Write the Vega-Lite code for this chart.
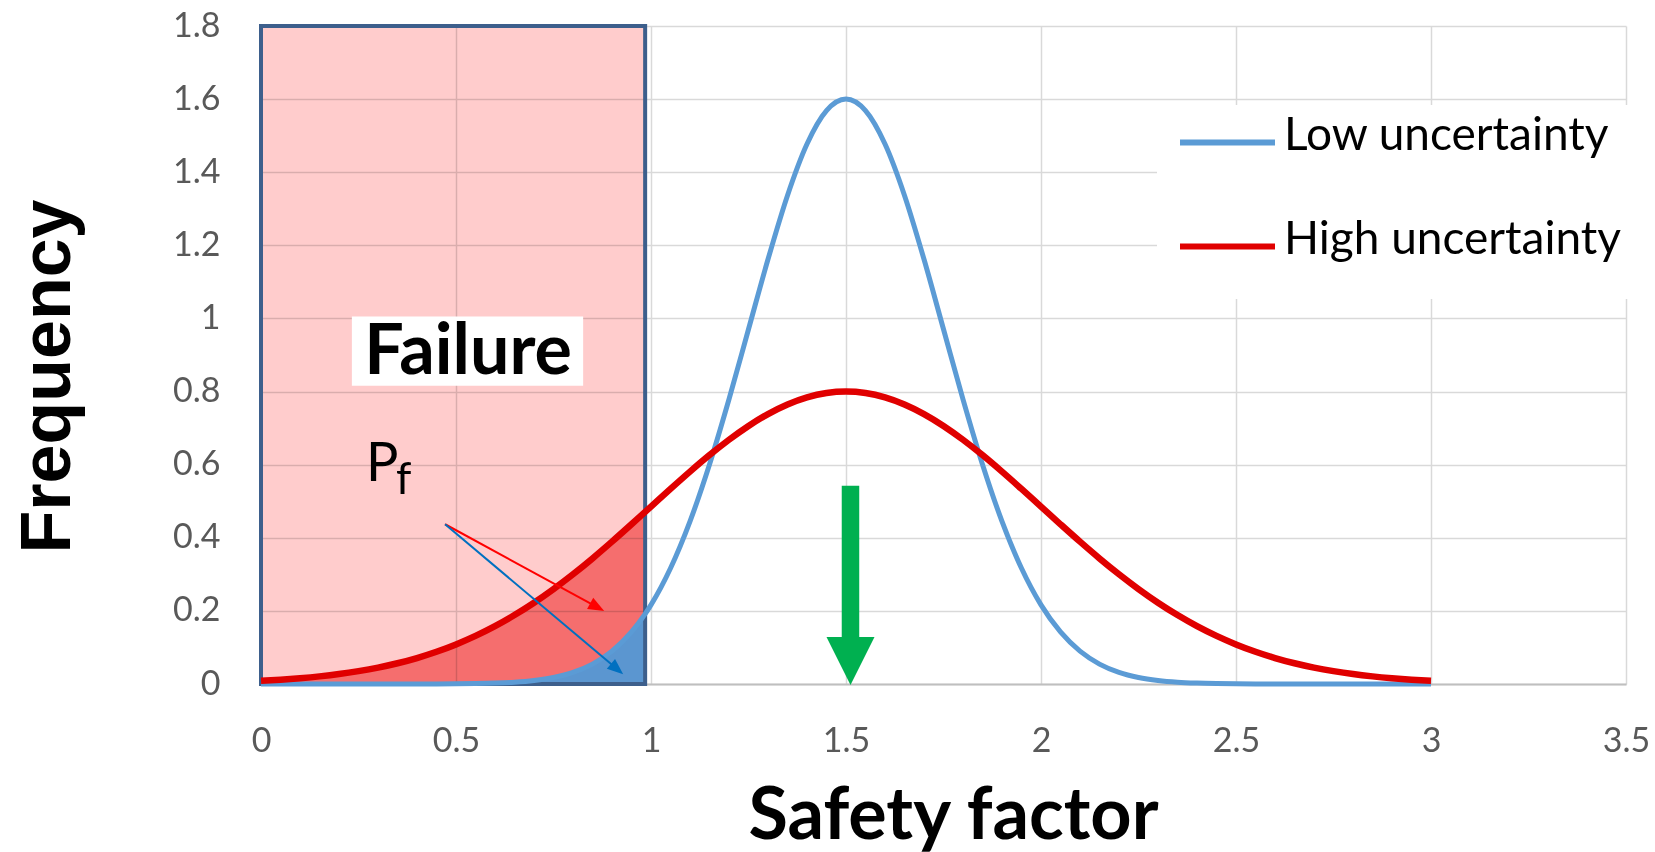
{
  "$schema": "https://vega.github.io/schema/vega-lite/v6.json",
  "width": 1365,
  "height": 658,
  "autosize": {"type": "none"},
  "padding": {"left": 261, "top": 26, "right": 29, "bottom": 168},
  "background": "white",
  "config": {"view": {"stroke": null}, "font": "Lato"},
  "datasets": {
    "curves": [
      {"x": 0, "Low uncertainty": 0, "High uncertainty": 0.0089},
      {"x": 0.05, "Low uncertainty": 0, "High uncertainty": 0.0119},
      {"x": 0.1, "Low uncertainty": 0, "High uncertainty": 0.0159},
      {"x": 0.15, "Low uncertainty": 0, "High uncertainty": 0.0209},
      {"x": 0.2, "Low uncertainty": 0, "High uncertainty": 0.0272},
      {"x": 0.25, "Low uncertainty": 0, "High uncertainty": 0.0352},
      {"x": 0.3, "Low uncertainty": 0, "High uncertainty": 0.0449},
      {"x": 0.35, "Low uncertainty": 0, "High uncertainty": 0.0568},
      {"x": 0.4, "Low uncertainty": 0.0001, "High uncertainty": 0.0711},
      {"x": 0.45, "Low uncertainty": 0.0002, "High uncertainty": 0.0882},
      {"x": 0.5, "Low uncertainty": 0.0005, "High uncertainty": 0.1083},
      {"x": 0.55, "Low uncertainty": 0.0012, "High uncertainty": 0.1316},
      {"x": 0.6, "Low uncertainty": 0.0025, "High uncertainty": 0.1583},
      {"x": 0.65, "Low uncertainty": 0.0049, "High uncertainty": 0.1886},
      {"x": 0.7, "Low uncertainty": 0.0096, "High uncertainty": 0.2224},
      {"x": 0.75, "Low uncertainty": 0.0178, "High uncertainty": 0.2597},
      {"x": 0.8, "Low uncertainty": 0.0317, "High uncertainty": 0.3002},
      {"x": 0.85, "Low uncertainty": 0.0545, "High uncertainty": 0.3436},
      {"x": 0.9, "Low uncertainty": 0.0898, "High uncertainty": 0.3894},
      {"x": 0.95, "Low uncertainty": 0.1423, "High uncertainty": 0.4369},
      {"x": 0.985, "Low uncertainty": 0.1917, "High uncertainty": 0.4707},
      {"x": 1, "Low uncertainty": 0.2165, "High uncertainty": 0.4852},
      {"x": 1.05, "Low uncertainty": 0.3166, "High uncertainty": 0.5336},
      {"x": 1.1, "Low uncertainty": 0.4449, "High uncertainty": 0.5809},
      {"x": 1.15, "Low uncertainty": 0.6005, "High uncertainty": 0.6262},
      {"x": 1.2, "Low uncertainty": 0.7788, "High uncertainty": 0.6682},
      {"x": 1.25, "Low uncertainty": 0.9704, "High uncertainty": 0.706},
      {"x": 1.3, "Low uncertainty": 1.1618, "High uncertainty": 0.7385},
      {"x": 1.35, "Low uncertainty": 1.3364, "High uncertainty": 0.7648},
      {"x": 1.4, "Low uncertainty": 1.477, "High uncertainty": 0.7842},
      {"x": 1.45, "Low uncertainty": 1.5683, "High uncertainty": 0.796},
      {"x": 1.5, "Low uncertainty": 1.6, "High uncertainty": 0.8},
      {"x": 1.55, "Low uncertainty": 1.5683, "High uncertainty": 0.796},
      {"x": 1.6, "Low uncertainty": 1.477, "High uncertainty": 0.7842},
      {"x": 1.65, "Low uncertainty": 1.3364, "High uncertainty": 0.7648},
      {"x": 1.7, "Low uncertainty": 1.1618, "High uncertainty": 0.7385},
      {"x": 1.75, "Low uncertainty": 0.9704, "High uncertainty": 0.706},
      {"x": 1.8, "Low uncertainty": 0.7788, "High uncertainty": 0.6682},
      {"x": 1.85, "Low uncertainty": 0.6005, "High uncertainty": 0.6262},
      {"x": 1.9, "Low uncertainty": 0.4449, "High uncertainty": 0.5809},
      {"x": 1.95, "Low uncertainty": 0.3166, "High uncertainty": 0.5336},
      {"x": 2, "Low uncertainty": 0.2165, "High uncertainty": 0.4852},
      {"x": 2.05, "Low uncertainty": 0.1423, "High uncertainty": 0.4369},
      {"x": 2.1, "Low uncertainty": 0.0898, "High uncertainty": 0.3894},
      {"x": 2.15, "Low uncertainty": 0.0545, "High uncertainty": 0.3436},
      {"x": 2.2, "Low uncertainty": 0.0317, "High uncertainty": 0.3002},
      {"x": 2.25, "Low uncertainty": 0.0178, "High uncertainty": 0.2597},
      {"x": 2.3, "Low uncertainty": 0.0096, "High uncertainty": 0.2224},
      {"x": 2.35, "Low uncertainty": 0.0049, "High uncertainty": 0.1886},
      {"x": 2.4, "Low uncertainty": 0.0025, "High uncertainty": 0.1583},
      {"x": 2.45, "Low uncertainty": 0.0012, "High uncertainty": 0.1316},
      {"x": 2.5, "Low uncertainty": 0.0005, "High uncertainty": 0.1083},
      {"x": 2.55, "Low uncertainty": 0.0002, "High uncertainty": 0.0882},
      {"x": 2.6, "Low uncertainty": 0.0001, "High uncertainty": 0.0711},
      {"x": 2.65, "Low uncertainty": 0, "High uncertainty": 0.0568},
      {"x": 2.7, "Low uncertainty": 0, "High uncertainty": 0.0449},
      {"x": 2.75, "Low uncertainty": 0, "High uncertainty": 0.0352},
      {"x": 2.8, "Low uncertainty": 0, "High uncertainty": 0.0272},
      {"x": 2.85, "Low uncertainty": 0, "High uncertainty": 0.0209},
      {"x": 2.9, "Low uncertainty": 0, "High uncertainty": 0.0159},
      {"x": 2.95, "Low uncertainty": 0, "High uncertainty": 0.0119},
      {"x": 3, "Low uncertainty": 0, "High uncertainty": 0.0089}
    ],
    "zone": [{"x": 0, "x2": 0.985, "y": 0, "y2": 1.8}]
  },
  "encoding": {
    "x": {
      "field": "x", "type": "quantitative",
      "scale": {"domain": [0, 3.5], "nice": false, "zero": false},
      "axis": {
        "title": "Safety factor",
        "values": [0, 0.5, 1, 1.5, 2, 2.5, 3, 3.5],
        "format": "~g",
        "grid": true, "gridColor": "#D9D9D9", "gridWidth": 1.5,
        "ticks": false, "tickSize": 0,
        "domain": true, "domainColor": "#BFBFBF", "domainWidth": 2,
        "labelFont": "Lato", "labelFontSize": 34, "labelColor": "#595959",
        "labelPadding": 40, "labelFlush": false, "labelOverlap": false,
        "titleFont": "Lato", "titleFontSize": 72, "titleFontWeight": "bold", "titleColor": "black",
        "titleX": 692, "titleY": 154, "titleAlign": "center", "titleBaseline": "alphabetic"
      }
    },
    "y": {
      "field": "y", "type": "quantitative",
      "scale": {"domain": [0, 1.8], "nice": false},
      "axis": {
        "title": "Frequency",
        "values": [0, 0.2, 0.4, 0.6, 0.8, 1, 1.2, 1.4, 1.6, 1.8],
        "format": "~g",
        "grid": true, "gridColor": "#D9D9D9", "gridWidth": 1.5,
        "ticks": false, "tickSize": 0, "domain": false,
        "labelFont": "Lato", "labelFontSize": 34, "labelColor": "#595959",
        "labelPadding": 41, "labelFlush": false, "labelOverlap": false,
        "titleFont": "Liberation Sans", "titleFontSize": 70, "titleFontWeight": "bold", "titleColor": "black",
        "titleAngle": 270, "titleX": -192, "titleY": 350, "titleAlign": "center", "titleBaseline": "alphabetic"
      }
    }
  },
  "layer": [
    {
      "data": {"name": "zone"},
      "mark": {"type": "rect", "fill": "#FFCCCC", "blend": "multiply"},
      "encoding": {"x2": {"field": "x2"}, "y2": {"field": "y2"}}
    },
    {
      "data": {"name": "curves"},
      "transform": [
        {"fold": ["Low uncertainty", "High uncertainty"], "as": ["series", "y"]},
        {"filter": "datum.series === 'High uncertainty' && datum.x <= 0.985"}
      ],
      "mark": {"type": "area", "fill": "#F58A8A", "blend": "multiply", "interpolate": "monotone"}
    },
    {
      "data": {"name": "curves"},
      "transform": [
        {"fold": ["Low uncertainty", "High uncertainty"], "as": ["series", "y"]},
        {"filter": "datum.series === 'Low uncertainty' && datum.x <= 0.985"}
      ],
      "mark": {"type": "area", "fill": "#5B96D0", "stroke": "#41719C", "strokeWidth": 2, "interpolate": "monotone"}
    },
    {
      "data": {"name": "zone"},
      "mark": {"type": "rect", "filled": false, "stroke": "#3D5F8C", "strokeWidth": 4},
      "encoding": {"x2": {"field": "x2"}, "y2": {"field": "y2"}}
    },
    {
      "data": {"values": [{"x": 0.233, "x2": 0.826, "y": 0.816, "y2": 1.005}]},
      "mark": {"type": "rect", "fill": "white"},
      "encoding": {"x2": {"field": "x2"}, "y2": {"field": "y2"}}
    },
    {
      "data": {"values": [{"x": 0.531, "y": 0.849, "t": "Failure"}]},
      "mark": {"type": "text", "font": "Lato", "fontWeight": "bold", "fontSize": 70, "align": "center", "baseline": "alphabetic", "color": "black"},
      "encoding": {"text": {"field": "t"}}
    },
    {
      "data": {"name": "curves"},
      "transform": [
        {"fold": ["Low uncertainty", "High uncertainty"], "as": ["series", "y"]},
        {"filter": "datum.series === 'Low uncertainty'"}
      ],
      "mark": {"type": "line", "strokeWidth": 5, "interpolate": "monotone"},
      "encoding": {
        "color": {
          "field": "series", "type": "nominal",
          "scale": {"domain": ["Low uncertainty", "High uncertainty"], "range": ["#5B9BD5", "#E00000"]},
          "legend": {
            "title": null, "orient": "none", "legendX": 896, "legendY": 79, "direction": "vertical",
            "symbolType": "M-1,-0.159L1,-0.159", "symbolSize": 9025, "symbolStrokeWidth": 6,
            "labelFont": "Lato", "labelFontSize": 46, "labelColor": "black", "labelLimit": 800,
            "labelBaseline": "alphabetic", "labelOffset": 6,
            "clipHeight": 50, "rowPadding": 42,
            "fillColor": "white", "padding": 20
          }
        }
      }
    },
    {
      "data": {"name": "curves"},
      "transform": [
        {"fold": ["Low uncertainty", "High uncertainty"], "as": ["series", "y"]},
        {"filter": "datum.series === 'High uncertainty'"}
      ],
      "mark": {"type": "line", "strokeWidth": 6.5, "interpolate": "monotone"},
      "encoding": {
        "color": {
          "field": "series", "type": "nominal",
          "scale": {"domain": ["Low uncertainty", "High uncertainty"], "range": ["#5B9BD5", "#E00000"]},
          "legend": {
            "title": null, "orient": "none", "legendX": 896, "legendY": 79, "direction": "vertical",
            "symbolType": "M-1,-0.159L1,-0.159", "symbolSize": 9025, "symbolStrokeWidth": 6,
            "labelFont": "Lato", "labelFontSize": 46, "labelColor": "black", "labelLimit": 800,
            "labelBaseline": "alphabetic", "labelOffset": 6,
            "clipHeight": 50, "rowPadding": 42,
            "fillColor": "white", "padding": 20
          }
        }
      }
    },
    {
      "data": {"values": [{"x": 0.472, "y": 0.437, "x2": 0.862, "y2": 0.21}]},
      "mark": {"type": "rule", "color": "#FF0000", "strokeWidth": 2},
      "encoding": {"x2": {"field": "x2"}, "y2": {"field": "y2"}}
    },
    {
      "data": {"values": [{"x": 0.862, "y": 0.21}]},
      "mark": {"type": "point", "shape": "M1,0L-1,-0.8L-1,0.8Z", "size": 256, "angle": 28.6, "filled": true, "color": "#FF0000", "opacity": 1}
    },
    {
      "data": {"values": [{"x": 0.472, "y": 0.437, "x2": 0.913, "y2": 0.041}]},
      "mark": {"type": "rule", "color": "#0070C0", "strokeWidth": 2},
      "encoding": {"x2": {"field": "x2"}, "y2": {"field": "y2"}}
    },
    {
      "data": {"values": [{"x": 0.913, "y": 0.041}]},
      "mark": {"type": "point", "shape": "M1,0L-1,-0.8L-1,0.8Z", "size": 256, "angle": 40, "filled": true, "color": "#0070C0", "opacity": 1}
    },
    {
      "data": {"values": [{"x": 0.269, "y": 0.554, "t": "P"}]},
      "mark": {"type": "text", "font": "Lato", "fontSize": 54, "align": "left", "baseline": "alphabetic", "color": "black"},
      "encoding": {"text": {"field": "t"}}
    },
    {
      "data": {"values": [{"x": 0.346, "y": 0.52, "t": "f"}]},
      "mark": {"type": "text", "font": "Lato", "fontSize": 44, "align": "left", "baseline": "alphabetic", "color": "black"},
      "encoding": {"text": {"field": "t"}}
    },
    {
      "data": {"values": [{"x": 1.5115, "y": 0.12, "y2": 0.542}]},
      "mark": {"type": "rule", "color": "#00B050", "strokeWidth": 17.5, "strokeCap": "butt"},
      "encoding": {"y2": {"field": "y2"}}
    },
    {
      "data": {"values": [{"x": 1.5115, "y": 0.063}]},
      "mark": {"type": "point", "shape": "M-1,-1L1,-1L0,1Z", "size": 2304, "filled": true, "color": "#00B050", "opacity": 1}
    }
  ]
}
